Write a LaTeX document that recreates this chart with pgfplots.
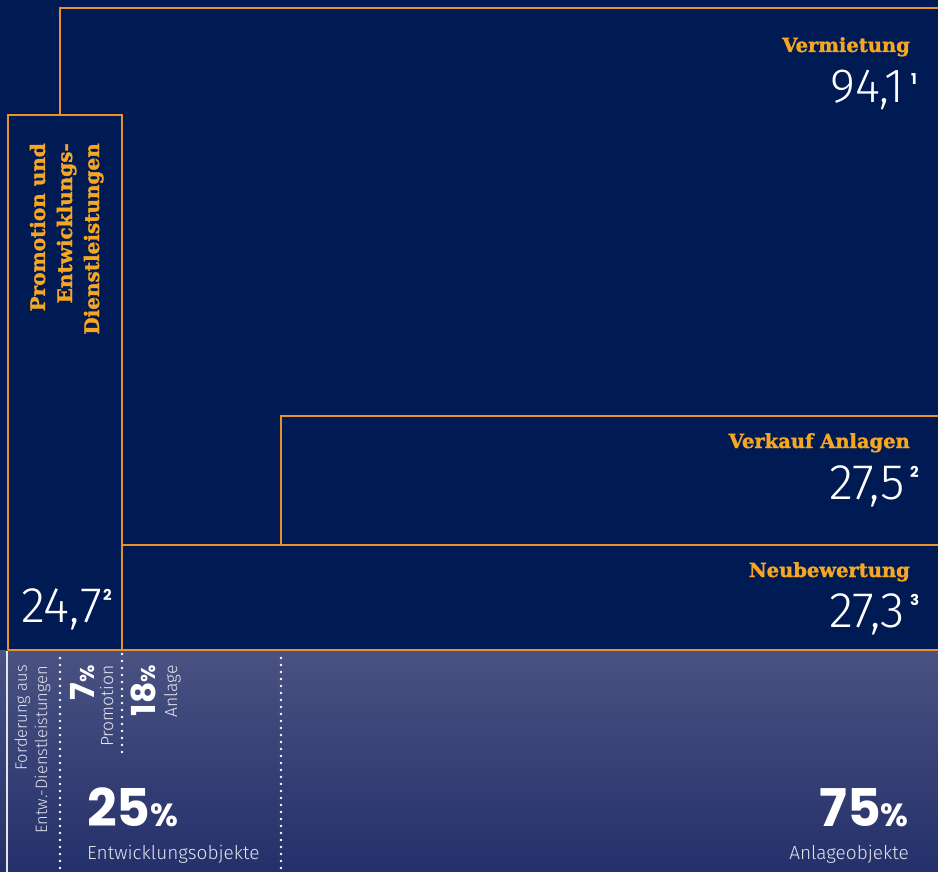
\documentclass[border=0pt]{standalone}
\usepackage{pgfplots}
\pgfplotsset{compat=1.18}
\usepackage{fontspec}
\setmainfont{Fira Sans Light}
\newfontfamily\thin{Fira Sans Light}
\newfontfamily\slab{DejaVu Serif}[BoldFeatures={FakeBold=1.6}]
\newfontfamily\heavy{Poppins}
\definecolor{navy}{HTML}{001A54}
\definecolor{lineor}{HTML}{E8922A}
\definecolor{txtor}{HTML}{F5A623}
\definecolor{bandtop}{HTML}{4A5282}
\definecolor{bandbot}{HTML}{24306A}
\begin{document}
\begin{tikzpicture}
\begin{axis}[width=938pt,height=872pt,scale only axis,hide axis,
  xmin=0,xmax=938,ymin=0,ymax=872,y dir=reverse,clip mode=individual]
% background
\addplot[draw=none,fill=navy] coordinates {(0,0)(938,0)(938,651)(0,651)};
\addplot[draw=none,top color=bandtop,bottom color=bandbot] coordinates {(0,650)(938,650)(938,872)(0,872)};
% boxes
\addplot[lineor,line width=2pt] coordinates {(60,115)(60,8)(945,8)};
\addplot[lineor,line width=2pt] coordinates {(8,650)(8,115)(122,115)(122,650)};
\addplot[lineor,line width=2pt] coordinates {(945,416)(281,416)(281,545)};
\addplot[lineor,line width=2pt] coordinates {(122,545)(945,545)};
\addplot[lineor,line width=2pt] coordinates {(8,650)(945,650)};
% band lines
\addplot[white!85!bandtop,line width=1.5pt] coordinates {(7,651)(7,872)};
\addplot[white,line width=2.6pt,line cap=round,dash pattern=on 0pt off 7pt] coordinates {(60,658)(60,872)};
\addplot[white,line width=2.6pt,line cap=round,dash pattern=on 0pt off 7pt] coordinates {(122,654)(122,756)};
\addplot[white,line width=2.6pt,line cap=round,dash pattern=on 0pt off 7pt] coordinates {(281,658)(281,872)};
% orange labels
\node[anchor=base east,inner sep=0,text=txtor,font=\slab\bfseries\fontsize{19.5}{22}\selectfont] at (axis cs:910,52) {Vermietung};
\node[anchor=base east,inner sep=0,text=txtor,font=\slab\bfseries\fontsize{19.5}{22}\selectfont] at (axis cs:910,448) {Verkauf Anlagen};
\node[anchor=base east,inner sep=0,text=txtor,font=\slab\bfseries\fontsize{19.5}{22}\selectfont] at (axis cs:910,577) {Neubewertung};
\node[rotate=90,anchor=base east,inner sep=0,text=txtor,font=\slab\bfseries\fontsize{20}{22}\selectfont] at (axis cs:45,143) {Promotion und};
\node[rotate=90,anchor=base east,inner sep=0,text=txtor,font=\slab\bfseries\fontsize{20}{22}\selectfont] at (axis cs:72,143) {Entwicklungs-};
\node[rotate=90,anchor=base east,inner sep=0,text=txtor,font=\slab\bfseries\fontsize{20}{22}\selectfont] at (axis cs:99,143) {Dienstleistungen};
% values
\node[anchor=base east,inner sep=0,text=white,font=\thin\fontsize{48}{50}\selectfont] at (axis cs:905,103) {94,1};
\node[anchor=north west,inner sep=0,text=white,font=\heavy\bfseries\fontsize{15}{15}\selectfont] at (axis cs:911,73) {1};
\node[anchor=base east,inner sep=0,text=white,font=\thin\fontsize{50}{50}\selectfont] at (axis cs:905,499) {27,5};
\node[anchor=north west,inner sep=0,text=white,font=\heavy\bfseries\fontsize{15}{15}\selectfont] at (axis cs:910,466) {2};
\node[anchor=base east,inner sep=0,text=white,font=\thin\fontsize{50}{50}\selectfont] at (axis cs:905,627) {27,3};
\node[anchor=north west,inner sep=0,text=white,font=\heavy\bfseries\fontsize{15}{15}\selectfont] at (axis cs:910,594) {3};
\node[anchor=base west,inner sep=0,text=white,font=\thin\fontsize{50}{50}\selectfont] at (axis cs:21,622) {24,7};
\node[anchor=north west,inner sep=0,text=white,font=\heavy\bfseries\fontsize{15}{15}\selectfont] at (axis cs:103,589) {2};
% band texts
\node[rotate=90,anchor=base east,inner sep=0,text=white!85!bandtop,font=\thin\fontsize{16.5}{18}\selectfont] at (axis cs:27,665) {Forderung aus};
\node[rotate=90,anchor=base east,inner sep=0,text=white!85!bandtop,font=\thin\fontsize{16.5}{18}\selectfont] at (axis cs:47,666) {Entw.-Dienstleistungen};
\node[rotate=90,anchor=base east,inner sep=0,text=white,font=\heavy\bfseries\fontsize{33}{33}\selectfont] at (axis cs:94,665) {7{\fontsize{20}{20}\selectfont\%}};
\node[rotate=90,anchor=base east,inner sep=0,text=white!85!bandtop,font=\thin\fontsize{17.5}{18}\selectfont] at (axis cs:113,665) {Promotion};
\node[rotate=90,anchor=base east,inner sep=0,text=white,font=\heavy\bfseries\fontsize{33}{33}\selectfont] at (axis cs:155,665) {18{\fontsize{20}{20}\selectfont\%}};
\node[rotate=90,anchor=base east,inner sep=0,text=white!85!bandtop,font=\thin\fontsize{17.5}{18}\selectfont] at (axis cs:177,665) {Anlage};
\node[anchor=base west,inner sep=0,text=white,font=\heavy\bfseries\fontsize{52}{52}\selectfont] at (axis cs:87,826) {25{\fontsize{32}{32}\selectfont\%}};
\node[anchor=base west,inner sep=0,text=white!85!bandtop,font=\thin\fontsize{19}{22}\selectfont] at (axis cs:87,859) {Entwicklungsobjekte};
\node[anchor=base east,inner sep=0,text=white,font=\heavy\bfseries\fontsize{52}{52}\selectfont] at (axis cs:909,826) {75{\fontsize{32}{32}\selectfont\%}};
\node[anchor=base east,inner sep=0,text=white!85!bandtop,font=\thin\fontsize{19}{22}\selectfont] at (axis cs:909,859) {Anlageobjekte};
\end{axis}
\end{tikzpicture}
\end{document}
